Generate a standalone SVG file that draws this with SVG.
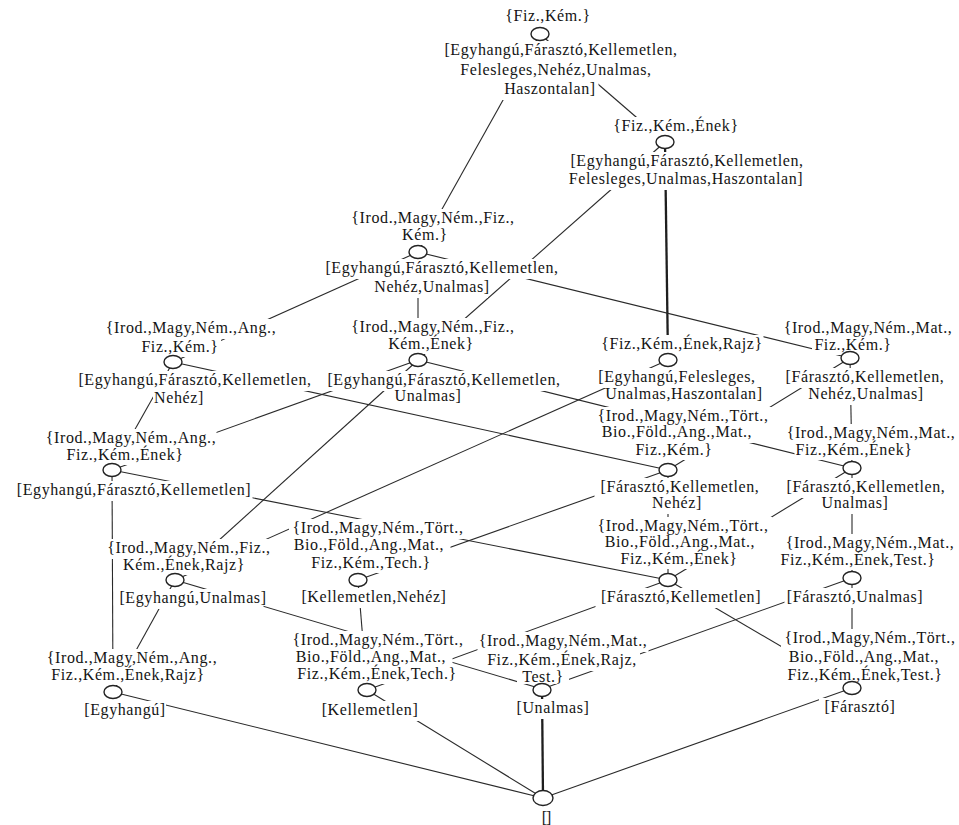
<svg xmlns="http://www.w3.org/2000/svg" width="959" height="825" viewBox="0 0 959 825">
<style>
.e{stroke:#2a2a2a;stroke-width:1.1;fill:none}
.k{stroke:#1e1e1e;stroke-width:2.3;fill:none}
.b{fill:#fff;stroke:none}
text{font-family:"Liberation Serif","Times New Roman",serif;font-size:16px;letter-spacing:0.6px;text-anchor:middle;fill:#141414}
.c{fill:#fff;stroke:#222;stroke-width:1.4}
</style>
<rect width="959" height="825" fill="#fff"/>
<g id="connectors">
<line class="e" x1="540" y1="34" x2="665" y2="142"/>
<line class="e" x1="540" y1="34" x2="418" y2="252"/>
<line class="k" x1="665" y1="142" x2="668" y2="360"/>
<line class="e" x1="665" y1="142" x2="418" y2="360"/>
<line class="e" x1="418" y1="252" x2="173" y2="362"/>
<line class="e" x1="418" y1="252" x2="418" y2="360"/>
<line class="e" x1="418" y1="252" x2="850" y2="358"/>
<line class="e" x1="173" y1="362" x2="112" y2="470"/>
<line class="e" x1="173" y1="362" x2="668" y2="470"/>
<line class="e" x1="418" y1="360" x2="112" y2="470"/>
<line class="e" x1="418" y1="360" x2="852" y2="468"/>
<line class="e" x1="418" y1="360" x2="175" y2="580"/>
<line class="e" x1="668" y1="360" x2="175" y2="580"/>
<line class="e" x1="850" y1="358" x2="668" y2="470"/>
<line class="e" x1="850" y1="358" x2="852" y2="468"/>
<line class="e" x1="112" y1="470" x2="113" y2="692"/>
<line class="e" x1="112" y1="470" x2="668" y2="580"/>
<line class="e" x1="668" y1="470" x2="358" y2="580"/>
<line class="e" x1="668" y1="470" x2="668" y2="580"/>
<line class="e" x1="852" y1="468" x2="668" y2="580"/>
<line class="e" x1="852" y1="468" x2="852" y2="578"/>
<line class="e" x1="175" y1="580" x2="113" y2="692"/>
<line class="e" x1="175" y1="580" x2="542" y2="689"/>
<line class="e" x1="358" y1="580" x2="367" y2="690"/>
<line class="e" x1="668" y1="580" x2="367" y2="690"/>
<line class="e" x1="668" y1="580" x2="852" y2="688"/>
<line class="e" x1="852" y1="578" x2="542" y2="689"/>
<line class="e" x1="852" y1="578" x2="852" y2="688"/>
<line class="e" x1="113" y1="692" x2="543" y2="798"/>
<line class="e" x1="367" y1="690" x2="543" y2="798"/>
<line class="k" x1="542" y1="689" x2="543" y2="798"/>
<line class="e" x1="852" y1="688" x2="543" y2="798"/>
</g>
<g id="nA">
<rect class="b" x="503.5" y="7" width="89" height="20"/>
<rect class="b" x="442.5" y="41" width="237" height="20"/>
<rect class="b" x="459.5" y="61" width="193" height="20"/>
<rect class="b" x="501.5" y="80" width="97" height="20"/>
<text x="548" y="21">{Fiz.,Kém.}</text>
<text x="561" y="55">[Egyhangú,Fárasztó,Kellemetlen,</text>
<text x="556" y="75">Felesleges,Nehéz,Unalmas,</text>
<text x="550" y="94">Haszontalan]</text>
<ellipse class="c" cx="540" cy="34" rx="9" ry="6.5"/>
</g>
<g id="nB">
<rect class="b" x="613" y="117" width="126" height="20"/>
<rect class="b" x="568.5" y="152" width="237" height="20"/>
<rect class="b" x="567.5" y="170" width="237" height="20"/>
<text x="676" y="131">{Fiz.,Kém.,Ének}</text>
<text x="687" y="166">[Egyhangú,Fárasztó,Kellemetlen,</text>
<text x="686" y="184">Felesleges,Unalmas,Haszontalan]</text>
<ellipse class="c" cx="665" cy="142" rx="9" ry="6.5"/>
</g>
<g id="nC">
<rect class="b" x="347.5" y="209" width="171" height="20"/>
<rect class="b" x="402.5" y="226" width="45" height="19"/>
<rect class="b" x="323.5" y="259" width="237" height="20"/>
<rect class="b" x="376" y="278" width="112" height="20"/>
<text x="433" y="223">{Irod.,Magy,Ném.,Fiz.,</text>
<text x="425" y="240">Kém.}</text>
<text x="442" y="273">[Egyhangú,Fárasztó,Kellemetlen,</text>
<text x="432" y="292">Nehéz,Unalmas]</text>
<ellipse class="c" cx="418" cy="252" rx="9" ry="6.5"/>
</g>
<g id="nD">
<rect class="b" x="105.5" y="319" width="171" height="20"/>
<rect class="b" x="139" y="338" width="82" height="19"/>
<rect class="b" x="76.5" y="371" width="237" height="20"/>
<rect class="b" x="153" y="389" width="52" height="20"/>
<text x="191" y="333">{Irod.,Magy,Ném.,Ang.,</text>
<text x="180" y="352">Fiz.,Kém.}</text>
<text x="195" y="385">[Egyhangú,Fárasztó,Kellemetlen,</text>
<text x="179" y="403">Nehéz]</text>
<ellipse class="c" cx="173" cy="362" rx="9" ry="6.5"/>
</g>
<g id="nE">
<rect class="b" x="347.5" y="318" width="171" height="20"/>
<rect class="b" x="390" y="335" width="82" height="19"/>
<rect class="b" x="325.5" y="371" width="237" height="20"/>
<rect class="b" x="394.5" y="387" width="67" height="20"/>
<text x="433" y="332">{Irod.,Magy,Ném.,Fiz.,</text>
<text x="431" y="349">Kém.,Ének}</text>
<text x="444" y="385">[Egyhangú,Fárasztó,Kellemetlen,</text>
<text x="428" y="401">Unalmas]</text>
<ellipse class="c" cx="418" cy="360" rx="9" ry="6.5"/>
</g>
<g id="nF">
<rect class="b" x="600.5" y="335" width="163" height="19"/>
<rect class="b" x="595.5" y="368" width="163" height="20"/>
<rect class="b" x="606" y="385" width="156" height="20"/>
<text x="682" y="349">{Fiz.,Kém.,Ének,Rajz}</text>
<text x="677" y="382">[Egyhangú,Felesleges,</text>
<text x="684" y="399">Unalmas,Haszontalan]</text>
<ellipse class="c" cx="668" cy="360" rx="9" ry="6.5"/>
</g>
<g id="nG">
<rect class="b" x="782.5" y="319" width="171" height="20"/>
<rect class="b" x="812" y="336" width="82" height="19"/>
<rect class="b" x="779.5" y="368" width="171" height="20"/>
<rect class="b" x="810" y="385" width="112" height="20"/>
<text x="868" y="333">{Irod.,Magy,Ném.,Mat.,</text>
<text x="853" y="350">Fiz.,Kém.}</text>
<text x="865" y="382">[Fárasztó,Kellemetlen,</text>
<text x="866" y="399">Nehéz,Unalmas]</text>
<ellipse class="c" cx="850" cy="358" rx="9" ry="6.5"/>
</g>
<g id="nH">
<rect class="b" x="45.5" y="429" width="171" height="20"/>
<rect class="b" x="65.5" y="446" width="119" height="19"/>
<rect class="b" x="15.5" y="481" width="237" height="20"/>
<text x="131" y="443">{Irod.,Magy,Ném.,Ang.,</text>
<text x="125" y="460">Fiz.,Kém.,Ének}</text>
<text x="134" y="495">[Egyhangú,Fárasztó,Kellemetlen]</text>
<ellipse class="c" cx="112" cy="470" rx="9" ry="6.5"/>
</g>
<g id="nI">
<rect class="b" x="594" y="407" width="178" height="20"/>
<rect class="b" x="595.5" y="423" width="163" height="20"/>
<rect class="b" x="633" y="441" width="82" height="19"/>
<rect class="b" x="594.5" y="478" width="171" height="20"/>
<rect class="b" x="651" y="494" width="52" height="20"/>
<text x="683" y="421">{Irod.,Magy,Ném.,Tört.,</text>
<text x="677" y="437">Bio.,Föld.,Ang.,Mat.,</text>
<text x="674" y="455">Fiz.,Kém.}</text>
<text x="680" y="492">[Fárasztó,Kellemetlen,</text>
<text x="677" y="508">Nehéz]</text>
<ellipse class="c" cx="668" cy="470" rx="9" ry="6.5"/>
</g>
<g id="nJ">
<rect class="b" x="785.5" y="424" width="171" height="20"/>
<rect class="b" x="794.5" y="441" width="119" height="19"/>
<rect class="b" x="780.5" y="478" width="171" height="20"/>
<rect class="b" x="821.5" y="494" width="67" height="20"/>
<text x="871" y="438">{Irod.,Magy,Ném.,Mat.,</text>
<text x="854" y="455">Fiz.,Kém.,Ének}</text>
<text x="866" y="492">[Fárasztó,Kellemetlen,</text>
<text x="855" y="508">Unalmas]</text>
<ellipse class="c" cx="852" cy="468" rx="9" ry="6.5"/>
</g>
<g id="nK">
<rect class="b" x="103.5" y="539" width="171" height="20"/>
<rect class="b" x="124.5" y="556" width="119" height="19"/>
<rect class="b" x="122.5" y="589" width="141" height="20"/>
<text x="189" y="553">{Irod.,Magy,Ném.,Fiz.,</text>
<text x="184" y="570">Kém.,Ének,Rajz}</text>
<text x="193" y="603">[Egyhangú,Unalmas]</text>
<ellipse class="c" cx="175" cy="580" rx="9" ry="6.5"/>
</g>
<g id="nL">
<rect class="b" x="289" y="519" width="178" height="20"/>
<rect class="b" x="287.5" y="536" width="163" height="20"/>
<rect class="b" x="308" y="554" width="126" height="19"/>
<rect class="b" x="299.5" y="588" width="149" height="20"/>
<text x="378" y="533">{Irod.,Magy,Ném.,Tört.,</text>
<text x="369" y="550">Bio.,Föld.,Ang.,Mat.,</text>
<text x="371" y="568">Fiz.,Kém.,Tech.}</text>
<text x="374" y="602">[Kellemetlen,Nehéz]</text>
<ellipse class="c" cx="358" cy="580" rx="9" ry="6.5"/>
</g>
<g id="nM">
<rect class="b" x="594" y="517" width="178" height="20"/>
<rect class="b" x="598.5" y="533" width="163" height="20"/>
<rect class="b" x="619.5" y="550" width="119" height="19"/>
<rect class="b" x="595.5" y="588" width="171" height="20"/>
<text x="683" y="531">{Irod.,Magy,Ném.,Tört.,</text>
<text x="680" y="547">Bio.,Föld.,Ang.,Mat.,</text>
<text x="679" y="564">Fiz.,Kém.,Ének}</text>
<text x="681" y="602">[Fárasztó,Kellemetlen]</text>
<ellipse class="c" cx="668" cy="580" rx="9" ry="6.5"/>
</g>
<g id="nN">
<rect class="b" x="784.5" y="534" width="171" height="20"/>
<rect class="b" x="776.5" y="551" width="163" height="19"/>
<rect class="b" x="784.5" y="588" width="141" height="20"/>
<text x="870" y="548">{Irod.,Magy,Ném.,Mat.,</text>
<text x="858" y="565">Fiz.,Kém.,Ének,Test.}</text>
<text x="855" y="602">[Fárasztó,Unalmas]</text>
<ellipse class="c" cx="852" cy="578" rx="9" ry="6.5"/>
</g>
<g id="nO">
<rect class="b" x="46.5" y="649" width="171" height="20"/>
<rect class="b" x="50" y="666" width="156" height="19"/>
<rect class="b" x="84" y="701" width="82" height="20"/>
<text x="132" y="663">{Irod.,Magy,Ném.,Ang.,</text>
<text x="128" y="680">Fiz.,Kém.,Ének,Rajz}</text>
<text x="125" y="715">[Egyhangú]</text>
<ellipse class="c" cx="113" cy="692" rx="9" ry="6.5"/>
</g>
<g id="nP">
<rect class="b" x="289" y="631" width="178" height="20"/>
<rect class="b" x="289.5" y="648" width="163" height="20"/>
<rect class="b" x="295.5" y="665" width="163" height="19"/>
<rect class="b" x="318" y="701" width="104" height="20"/>
<text x="378" y="645">{Irod.,Magy,Ném.,Tört.,</text>
<text x="371" y="662">Bio.,Föld.,Ang.,Mat.,</text>
<text x="377" y="679">Fiz.,Kém.,Ének,Tech.}</text>
<text x="370" y="715">[Kellemetlen]</text>
<ellipse class="c" cx="367" cy="690" rx="9" ry="6.5"/>
</g>
<g id="nQ">
<rect class="b" x="477.5" y="632" width="171" height="20"/>
<rect class="b" x="484" y="651" width="156" height="20"/>
<rect class="b" x="517" y="668" width="52" height="16"/>
<rect class="b" x="515.5" y="699" width="75" height="20"/>
<text x="563" y="646">{Irod.,Magy,Ném.,Mat.,</text>
<text x="562" y="665">Fiz.,Kém.,Ének,Rajz,</text>
<text x="543" y="682">Test.}</text>
<text x="553" y="713">[Unalmas]</text>
<ellipse class="c" cx="542" cy="690" rx="9" ry="6.5"/>
</g>
<g id="nR">
<rect class="b" x="781" y="629" width="178" height="20"/>
<rect class="b" x="782.5" y="648" width="163" height="20"/>
<rect class="b" x="783.5" y="666" width="163" height="19"/>
<rect class="b" x="819" y="698" width="82" height="20"/>
<text x="870" y="643">{Irod.,Magy,Ném.,Tört.,</text>
<text x="864" y="662">Bio.,Föld.,Ang.,Mat.,</text>
<text x="865" y="680">Fiz.,Kém.,Ének,Test.}</text>
<text x="860" y="712">[Fárasztó]</text>
<ellipse class="c" cx="852" cy="688" rx="9" ry="6.5"/>
</g>
<g id="nS">
<ellipse class="c" cx="543" cy="798" rx="10" ry="7.5"/>
<text x="546" y="823" style="letter-spacing:-1px">[]</text>
</g>
</svg>
